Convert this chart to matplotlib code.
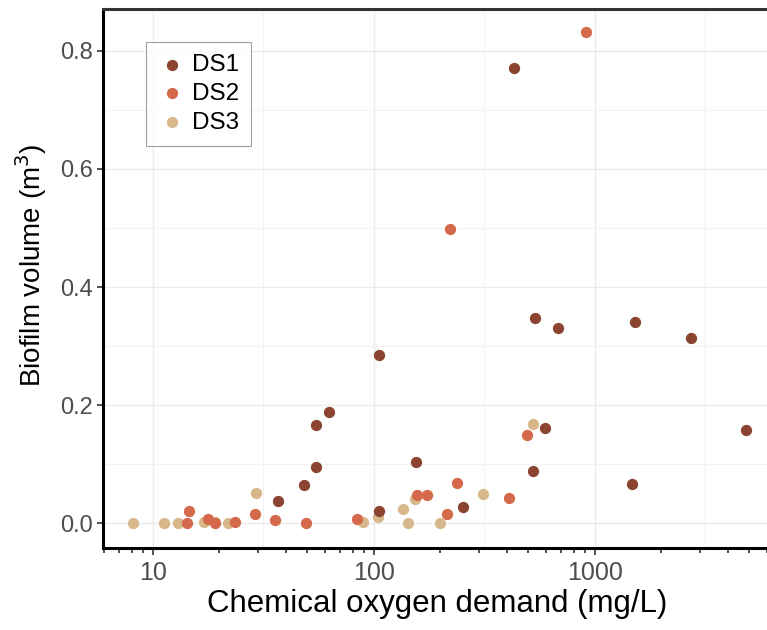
import numpy as np
import matplotlib.pyplot as plt
from matplotlib.ticker import LogLocator, FixedLocator, NullFormatter, FixedFormatter

plt.rcParams['font.family'] = ['Liberation Sans', 'DejaVu Sans']

# chemical oxygen demand (mg/L) and biofilm volume (m3) per data set
ds1_cod = [36.8, 48.4, 54.5, 54.7, 62.7, 105, 105, 155, 252, 430, 524, 536, 596, 679, 1472, 1524, 2723, 4820]
ds1_vol = [0.038, 0.064, 0.095, 0.167, 0.189, 0.285, 0.021, 0.104, 0.027, 0.770, 0.089, 0.348, 0.161, 0.330, 0.066, 0.341, 0.313, 0.158]

ds2_cod = [14.2, 14.6, 17.7, 19.0, 23.4, 28.9, 35.6, 49.3, 83.6, 156, 174, 215, 220, 238, 407, 495, 910]
ds2_vol = [0.0, 0.021, 0.007, 0.0, 0.003, 0.016, 0.006, 0.0, 0.008, 0.048, 0.048, 0.015, 0.498, 0.069, 0.042, 0.149, 0.832]

ds3_cod = [8.09, 11.2, 13.0, 17.1, 19.1, 21.9, 29.2, 89.6, 104.5, 136, 143, 153, 199, 310, 525]
ds3_vol = [0.0, 0.0, 0.0, 0.002, 0.002, 0.0, 0.051, 0.003, 0.010, 0.025, 0.0, 0.041, 0.0, 0.049, 0.168]

colors = {"DS1": "#8A4431", "DS2": "#D4694B", "DS3": "#D8B88B"}

fig = plt.figure(figsize=(7.67, 6.30), dpi=100)
ax = fig.add_axes([0.134, 0.130, 0.872, 0.856])

# draw DS3 first so the darker series sit on top
h3 = ax.scatter(ds3_cod, ds3_vol, s=66, color=colors["DS3"], zorder=3, linewidths=0)
h2 = ax.scatter(ds2_cod, ds2_vol, s=66, color=colors["DS2"], zorder=3, linewidths=0)
h1 = ax.scatter(ds1_cod, ds1_vol, s=66, color=colors["DS1"], zorder=3, linewidths=0)

ax.set_xscale("log")
ax.set_xlim(5.93, 6300)
ax.set_ylim(-0.042, 0.871)

ax.xaxis.set_major_locator(FixedLocator([10, 100, 1000]))
ax.xaxis.set_major_formatter(FixedFormatter(["10", "100", "1000"]))
ax.xaxis.set_minor_locator(LogLocator(base=10, subs=np.arange(2, 10)))
ax.xaxis.set_minor_formatter(NullFormatter())
ax.set_yticks([0.0, 0.2, 0.4, 0.6, 0.8])
ax.set_yticklabels(["0.0", "0.2", "0.4", "0.6", "0.8"])

# ggplot-style grid: majors plus midpoints
grid_kw = dict(color="#EBEBEB", linewidth=1.0, zorder=0)
for v in [10, 100, 1000]:
    ax.axvline(v, **grid_kw)
for v in [10 ** 0.5, 10 ** 1.5, 10 ** 2.5, 10 ** 3.5]:
    ax.axvline(v, color="#F2F2F2", linewidth=0.8, zorder=0)
for v in [0.0, 0.2, 0.4, 0.6, 0.8]:
    ax.axhline(v, **grid_kw)
for v in [0.1, 0.3, 0.5, 0.7]:
    ax.axhline(v, color="#F2F2F2", linewidth=0.8, zorder=0)

for side in ["left", "bottom"]:
    ax.spines[side].set_linewidth(2.2)
    ax.spines[side].set_color("black")
ax.spines["top"].set_linewidth(2.2)
ax.spines["top"].set_color("#333333")
ax.spines["right"].set_visible(False)

ax.tick_params(axis="y", which="major", labelsize=17, labelcolor="#4D4D4D",
               color="#333333", width=1.2, length=4, pad=3)
ax.tick_params(axis="x", which="major", labelsize=18, labelcolor="#4D4D4D",
               color="#333333", width=1.2, length=5, pad=4)
ax.tick_params(axis="x", which="minor", color="#333333", width=1.2, length=3.5)

ax.set_xlabel("Chemical oxygen demand (mg/L)", fontsize=22.5, labelpad=3)
ax.set_ylabel("Biofilm volume (m$^3$)", fontsize=20)
ax.yaxis.set_label_coords(-0.081, 0.525)

leg = ax.legend([h1, h2, h3], ["DS1", "DS2", "DS3"], loc="upper left",
                bbox_to_anchor=(0.064, 0.939), fontsize=17.5, frameon=True,
                fancybox=False, edgecolor="#888888", markerscale=1.0,
                handletextpad=0.2, borderpad=0.5, labelspacing=0.28,
                handlelength=1.2, borderaxespad=0)
leg.get_frame().set_linewidth(0.8)

fig.savefig("out.png", dpi=100)
